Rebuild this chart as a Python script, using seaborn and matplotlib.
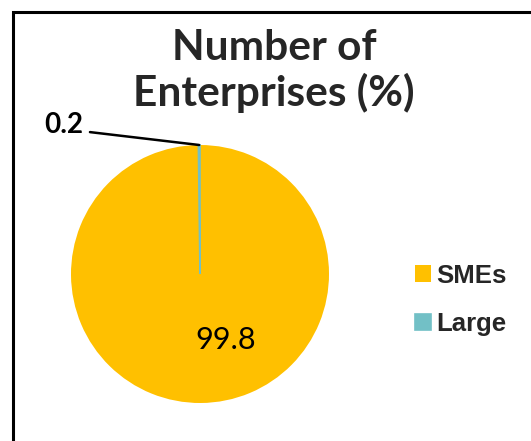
import matplotlib
matplotlib.use('Agg')
import matplotlib.pyplot as plt
from matplotlib.patches import Rectangle
import numpy as np
import seaborn as sns

categories = ['SMEs', 'Large']
shares = [99.8, 0.2]
colors = ['#FFC000', '#72C0C6']
title = 'Number of\nEnterprises (%)'

sns.set_theme(style='white')
plt.rcParams['font.family'] = ['Lato', 'DejaVu Sans']

W, H = 531, 441
fig = plt.figure(figsize=(W / 100, H / 100), dpi=100)

# pie centre / radius in pixels
cx, cy, r = 200, 274, 129
ax = fig.add_axes([(cx - r) / W, 1 - (cy + r) / H, 2 * r / W, 2 * r / H])

wedges, _ = ax.pie(shares, colors=colors, startangle=90, counterclock=False,
                   wedgeprops=dict(linewidth=0))
wedges[1].set_edgecolor(colors[1])
wedges[1].set_linewidth(1.2)
ax.set_xlim(-1, 1)
ax.set_ylim(-1, 1)

# big slice label inside
ax.text(0.20, -0.58, f'{shares[0]:.1f}', ha='center', va='baseline',
        fontsize=22, color='black')

# small slice label with leader line
mid = np.deg2rad((wedges[1].theta1 + wedges[1].theta2) / 2)
px, py = np.cos(mid), np.sin(mid)
ax.plot([-0.853, px], [1.10, py], color='black', lw=1.8, clip_on=False)
ax.text(-0.905, 1.093, f'{shares[1]:.1f}', ha='right', va='baseline',
        fontsize=20, weight='bold', color='black')

fig.text(274 / W, 1 - 29 / H, title, ha='center', va='top', fontsize=30.5,
         weight='bold', linespacing=1.17)

fig.legend(wedges, categories, loc='center left',
           bbox_to_anchor=(402 / W, 1 - 300 / H), frameon=False,
           borderpad=0, handlelength=0.62, handleheight=0.62,
           handletextpad=0.23, labelspacing=0.95,
           prop=dict(family='Liberation Sans', weight='bold', size=18.5))

fig.add_artist(Rectangle((13 / W, -0.1), 1.2, 1 - 12 / H + 0.1,
                         transform=fig.transFigure, fill=False,
                         lw=2.2, ec='black'))

fig.savefig('out.png', dpi=100)
